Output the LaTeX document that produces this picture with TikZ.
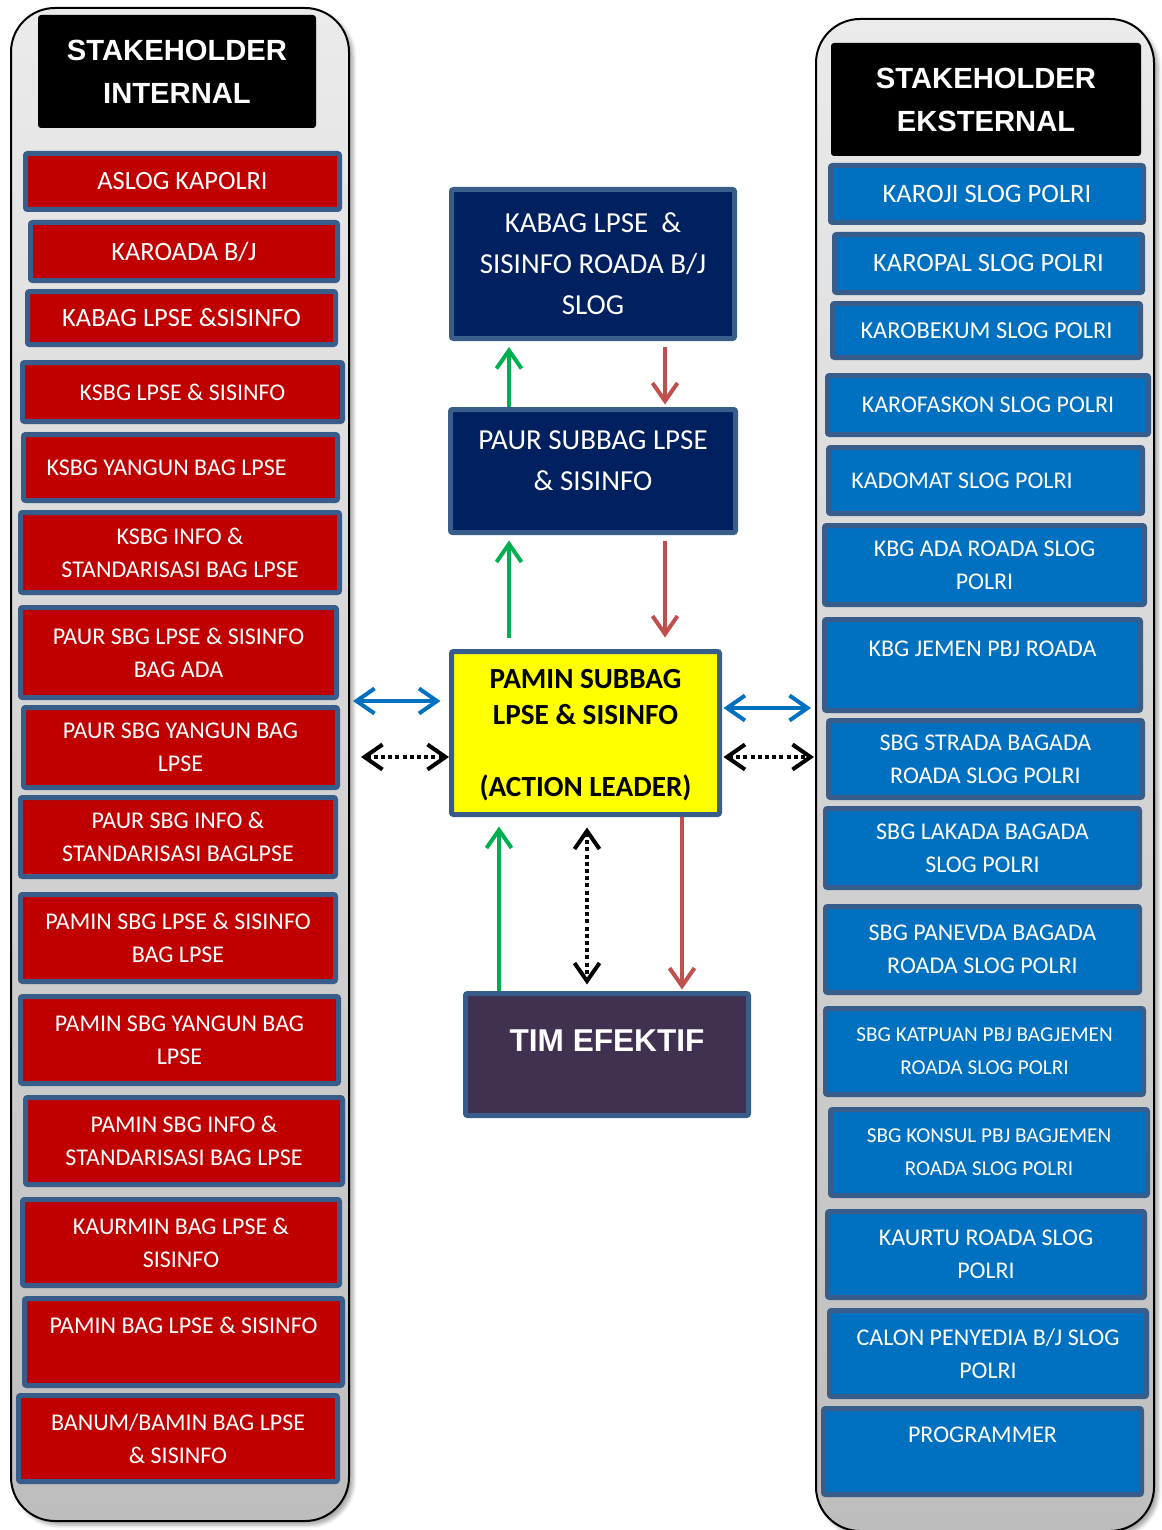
\documentclass[tikz,border=0pt]{standalone}
\usepackage{fontspec}
\setmainfont{Carlito}
\newfontfamily\headfont{Liberation Sans}
\usepackage{tikz}
\usetikzlibrary{arrows.meta,calc,shadows.blur}
\definecolor{boxred}{HTML}{C00000}
\definecolor{boxblue}{HTML}{0070C0}
\definecolor{edgeblue}{HTML}{385D8A}
\definecolor{navy}{HTML}{002060}
\definecolor{leaderyellow}{HTML}{FFFF00}
\definecolor{teampurple}{HTML}{403151}
\definecolor{upgreen}{HTML}{00B050}
\definecolor{downred}{HTML}{C0504D}
\definecolor{linkblue}{HTML}{0070C0}
\definecolor{paneltop}{HTML}{EBEBEB}
\definecolor{panelbottom}{HTML}{BDBDBD}
\tikzset{
  >={Straight Barb[length=9pt,width=12.5pt]},
  panel/.style={draw=black,line width=1pt,rounded corners=22pt,top color=paneltop,bottom color=panelbottom,
                minimum width=169pt,blur shadow={shadow xshift=2pt,shadow yshift=-2pt,shadow opacity=35,shadow blur steps=5}},
  header/.style={fill=black,rounded corners=1.5pt,text=white,align=center,
                 font=\headfont\bfseries\fontsize{14.6}{21.5}\selectfont},
  base/.style={draw=edgeblue,line width=2.5pt,rounded corners=1pt,align=center,inner sep=1pt,text=white},
  redbox/.style={base,fill=boxred},
  bluebox/.style={base,fill=boxblue},
  chiefbox/.style={base,fill=navy,font=\fontsize{14.5}{20.5}\selectfont},
  leader/.style={base,fill=leaderyellow,text=black,font=\bfseries\fontsize{14.6}{18}\selectfont},
  team/.style={base,fill=teampurple,font=\headfont\bfseries\fontsize{15.8}{19}\selectfont},
  upflow/.style={->,line width=2pt,draw=upgreen},
  downflow/.style={->,line width=2pt,draw=downred},
  linkflow/.style={<->,line width=2pt,draw=linkblue},
  dotflow/.style={<->,line width=2pt,draw=black,dash pattern=on 2pt off 1.6pt}
}

\begin{document}
\begin{tikzpicture}[x=0.5pt,y=-0.5pt]
  \useasboundingbox (0,0) rectangle (1161,1530);
  % side panels
  \node[panel,minimum height=756.5pt] (intpanel) at (180,764.5) {};
  \node[panel,minimum height=756pt] (extpanel) at (985,775) {};
  \node[header,minimum width=139pt,minimum height=56.5pt] (inthead) at (177,71.5) {STAKEHOLDER\\INTERNAL};
  \node[header,minimum width=155pt,minimum height=56.5pt] (exthead) at (986,99.5) {STAKEHOLDER\\EKSTERNAL};
  % internal stakeholders
  \foreach \nm/\fs/\xa/\ya/\xb/\yb/\txt in {
      aslog/13.2/23/151/342/212/{ASLOG KAPOLRI},
      karoada/13.2/28/220/340/283/{KAROADA B/J},
      kabaglpse/13.2/25/289/338/347/{KABAG LPSE \&SISINFO},
      ksbglpse/12/20/360/345/424/{KSBG LPSE \& SISINFO},
      ksbgyangun/12/21/432/340/503/{KSBG YANGUN BAG LPSE\hspace*{14pt}},
      ksbginfo/12/18/510/342/595/{KSBG INFO \&\\STANDARISASI BAG LPSE},
      paurlpse/12/18/605/339/700/{PAUR SBG LPSE \& SISINFO\\BAG ADA},
      pauryangun/12/21/705/340/790/{PAUR SBG YANGUN BAG\\LPSE},
      paurinfo/12/18/795/338/879/{PAUR SBG INFO \&\\STANDARISASI BAGLPSE},
      paminlpse/12/18/892/338/984/{PAMIN SBG LPSE \& SISINFO\\BAG LPSE},
      paminyangun/12/18/994/341/1086/{PAMIN SBG YANGUN BAG\\LPSE},
      pamininfo/12/23/1095/345/1187/{PAMIN SBG INFO \&\\STANDARISASI BAG LPSE},
      kaurmin/12/20/1197/342/1288/{KAURMIN BAG LPSE \&\\SISINFO},
      paminbag/12/22/1296/345/1388/{PAMIN BAG LPSE \& SISINFO\\~},
      banum/12/16/1393/340/1484/{BANUM/BAMIN BAG LPSE\\\& SISINFO}}
    \node[redbox,font=\fontsize{\fs}{16.5}\selectfont,
          minimum width={(\xb-\xa-5)*0.5pt},minimum height={(\yb-\ya-5)*0.5pt}]
      (\nm) at ({(\xa+\xb)/2},{(\ya+\yb)/2}) {\txt};
  % external stakeholders
  \foreach \nm/\fs/\xa/\ya/\xb/\yb/\txt in {
      karoji/13.3/828/163/1146/225/{KAROJI SLOG POLRI},
      karopal/13.2/832/232/1145/295/{KAROPAL SLOG POLRI},
      karobekum/12.2/830/301/1143/360/{KAROBEKUM SLOG POLRI},
      karofaskon/12/825/373/1151/437/{KAROFASKON SLOG POLRI},
      kadomat/12/826/445/1145/516/{KADOMAT SLOG POLRI\hspace*{23.5pt}},
      kbgada/12/822/523/1147/607/{KBG ADA ROADA SLOG\\POLRI},
      kbgjemen/12/822/617/1143/713/{KBG JEMEN PBJ ROADA\\~},
      strada/12/826/718/1145/800/{SBG STRADA BAGADA\\ROADA SLOG POLRI},
      lakada/12/823/806/1142/890/{SBG LAKADA BAGADA\\SLOG POLRI},
      panevda/12/823/904/1142/995/{SBG PANEVDA BAGADA\\ROADA SLOG POLRI},
      katpuan/10.6/823/1006/1146/1097/{SBG KATPUAN PBJ BAGJEMEN\\ROADA SLOG POLRI},
      konsul/10.6/828/1107/1150/1198/{SBG KONSUL PBJ BAGJEMEN\\ROADA SLOG POLRI},
      kaurtu/12/825/1209/1147/1300/{KAURTU ROADA SLOG\\POLRI},
      calon/12/827/1308/1149/1399/{CALON PENYEDIA B/J SLOG\\POLRI},
      programmer/12/821/1406/1144/1497/{PROGRAMMER\\~}}
    \node[bluebox,font=\fontsize{\fs}{16.5}\selectfont,
          minimum width={(\xb-\xa-5)*0.5pt},minimum height={(\yb-\ya-5)*0.5pt}]
      (\nm) at ({(\xa+\xb)/2},{(\ya+\yb)/2}) {\txt};
  % chain of command
  \node[chiefbox,minimum width=141.5pt,minimum height=74.5pt] (kabag) at (593,264) {KABAG LPSE\ \ \&\\SISINFO ROADA B/J\\SLOG};
  \node[chiefbox,minimum width=142.5pt,minimum height=61.5pt,text depth=10.5pt] (paur) at (593,471) {PAUR SUBBAG LPSE\\\& SISINFO};
  \node[leader,minimum width=134pt,minimum height=81.5pt,text depth=0pt] (pamin) at (585.5,733) {PAMIN SUBBAG\\LPSE \& SISINFO\\~\\(ACTION LEADER)};
  \node[team,minimum width=141.5pt,minimum height=61pt,text depth=14pt] (tim) at (607,1054.5) {TIM EFEKTIF};
  \coordinate (upx) at ([xshift=-42pt]paur.center);
  \coordinate (downx) at ([xshift=36pt]paur.center);
  \draw[upflow,shorten >=3pt] (paur.north -| upx) -- (kabag.south -| upx);
  \draw[downflow,shorten <=3pt,shorten >=1.25pt] (kabag.south -| downx) -- (paur.north -| downx);
  \draw[upflow,shorten <=5.75pt,shorten >=2.75pt] (pamin.north -| upx) -- (paur.south -| upx);
  \draw[downflow,shorten <=2.75pt,shorten >=5.75pt] (paur.south -| downx) -- (pamin.north -| downx);
  \coordinate (teamup) at ([xshift=-43.25pt]pamin.south);
  \coordinate (teamdot) at ([xshift=0.75pt]pamin.south);
  \coordinate (teamdown) at ([xshift=48.25pt]pamin.south);
  \draw[upflow,shorten >=4.75pt] (tim.north -| teamup) -- (teamup);
  \draw[dotflow,shorten <=5.25pt,shorten >=3.25pt] (teamdot) -- (tim.north -| teamdot);
  \draw[downflow,shorten >=0.75pt] (teamdown) -- (tim.north -| teamdown);
  % links to the stakeholders
  \coordinate (intlink) at ([yshift=16pt]pamin.west);
  \coordinate (extlink) at ([yshift=12.5pt]pamin.east);
  \coordinate (intdot) at ([yshift=-12pt]pamin.west);
  \coordinate (extdot) at ([yshift=-12pt]pamin.east);
  \draw[linkflow,shorten <=1.5pt,shorten >=4.25pt] (intlink -| intpanel.east) -- (intlink);
  \draw[linkflow,shorten <=0.75pt,shorten >=2pt] (extlink) -- (extlink -| extpanel.west);
  \draw[dotflow,shorten <=5.5pt] (intdot -| intpanel.east) -- (intdot);
  \draw[dotflow,shorten <=0.75pt,shorten >=0.5pt] (extdot) -- (extdot -| extpanel.west);
\end{tikzpicture}
\end{document}
